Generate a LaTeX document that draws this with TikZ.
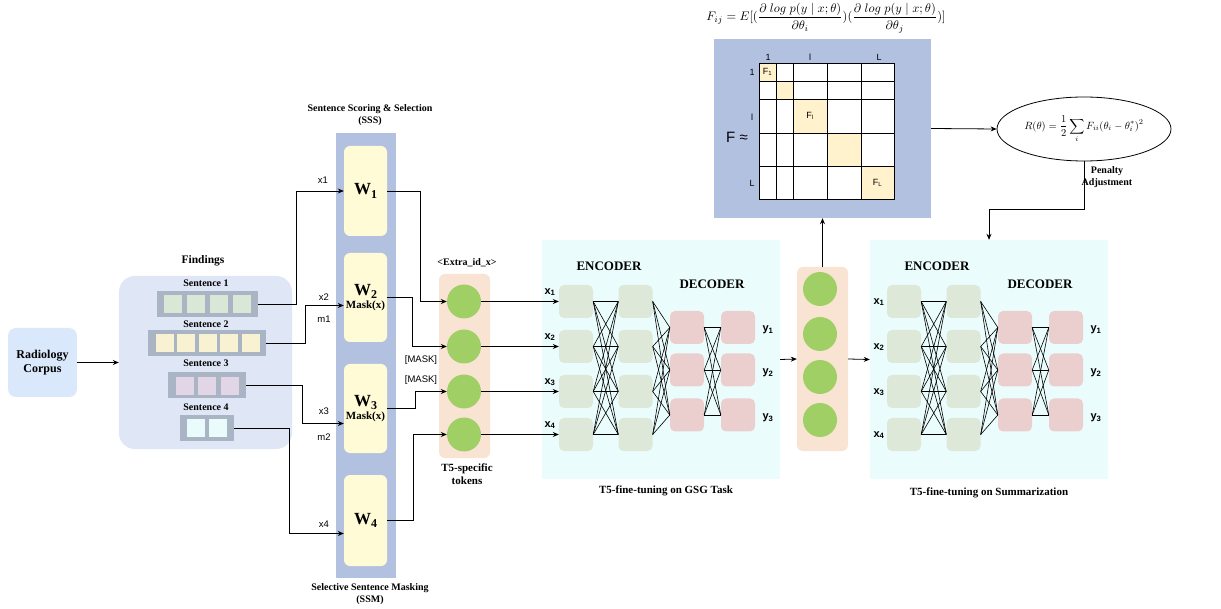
\documentclass[tikz,border=0pt]{standalone}
\usepackage[no-math]{fontspec}
\usepackage{graphicx}
\setmainfont{Liberation Serif}
\setsansfont{Liberation Sans}
\usetikzlibrary{arrows.meta,shapes.geometric}
\definecolor{corpusblue}{HTML}{DAE8FC}
\definecolor{findbg}{HTML}{DFE6F5}
\definecolor{bargray}{HTML}{A9B4C5}
\definecolor{sgreen}{HTML}{D9E7D6}
\definecolor{syellow}{HTML}{F8F1D2}
\definecolor{spurple}{HTML}{E2D5E6}
\definecolor{scyan}{HTML}{EAFBFB}
\definecolor{colblue}{HTML}{B3C1E1}
\definecolor{wyellow}{HTML}{FEFBD6}
\definecolor{peach}{HTML}{F9E4D3}
\definecolor{tokgreen}{HTML}{A0CF65}
\definecolor{t5bg}{HTML}{EBFCFC}
\definecolor{encgreen}{HTML}{DDE8D8}
\definecolor{decpink}{HTML}{EBCFCF}
\definecolor{matyellow}{HTML}{FFF2CC}
\newcommand{\Wsub}[1]{{\fontsize{17}{17}\selectfont W}\raisebox{-3.5pt}{\fontsize{12}{12}\selectfont #1}}
\begin{document}
\begin{tikzpicture}[x=1pt,y=-1pt,
  title/.style={font=\bfseries\fontsize{10}{11.5}\selectfont,align=center,inner sep=0},
  bigtitle/.style={font=\bfseries\fontsize{13}{14}\selectfont,inner sep=0},
  lab/.style={font=\sffamily\fontsize{9.5}{10}\selectfont,inner sep=0},
  blab/.style={font=\sffamily\bfseries\fontsize{11}{11}\selectfont,inner sep=0},
  arr/.style={-{Stealth[length=6pt,width=5pt]},line width=0.8pt},
  ln/.style={line width=0.6pt},
  cellbox/.style={minimum width=18pt,minimum height=18pt,inner sep=0},
  bar/.style={fill=bargray,minimum height=26pt,inner sep=0},
  wbox/.style={fill=wyellow,rounded corners=6pt,minimum width=43pt,inner sep=0,align=center,font=\bfseries},
  col/.style={fill=peach,rounded corners=6pt,minimum width=51pt,minimum height=184pt,inner sep=0},
  tok/.style={circle,fill=tokgreen,minimum size=34pt,inner sep=0},
  enc/.style={fill=encgreen,rounded corners=5pt,minimum width=34pt,minimum height=33pt,inner sep=0},
  dec/.style={fill=decpink,rounded corners=5pt,minimum width=34pt,minimum height=33pt,inner sep=0},
  t5box/.style={fill=t5bg,minimum width=238pt,minimum height=239pt,inner sep=0}
]
\useasboundingbox (0,0) rectangle (1221,609);
\fill[white] (0,0) rectangle (1221,609);

% ---------- Corpus and findings ----------
\node[fill=corpusblue,rounded corners=8pt,minimum width=69pt,minimum height=69pt,align=center,
      font=\bfseries\fontsize{12}{13.5}\selectfont] (corpus) at (42.5,362.5) {Radiology\\Corpus};
\node[fill=findbg,rounded corners=16pt,minimum width=173pt,minimum height=173pt,inner sep=0] (find) at (205.5,362.5) {};
\draw[arr] (corpus.east) -- (find.west);
\node[title,font=\bfseries\fontsize{11.5}{12}\selectfont] (findt) at (203,261) {Findings};

\node[title] (st1) at (206,283) {Sentence 1};
\node[title] (st2) at (206,324) {Sentence 2};
\node[title] (st3) at (206,363) {Sentence 3};
\node[title] (st4) at (206,407) {Sentence 4};

\node[bar,minimum width=101pt] (s1bar) at (207.5,304) {};
\foreach \i in {1,...,4} \node[cellbox,fill=sgreen] (s1c\i) at ({207.5+(\i-2.5)*23},304) {};
\node[bar,minimum width=118pt] (s2bar) at (207,343) {};
\foreach \i in {1,...,5} \node[cellbox,fill=syellow] (s2c\i) at ({207.5+(\i-3)*21.5},343) {};
\node[bar,minimum width=78pt] (s3bar) at (207,385.5) {};
\foreach \i in {1,...,3} \node[cellbox,fill=spurple] (s3c\i) at ({207+(\i-2)*22.5},386) {};
\node[bar,minimum width=54pt] (s4bar) at (207,428) {};
\foreach \i in {1,2} \node[cellbox,fill=scyan] (s4c\i) at ({207+(\i-1.5)*22},428) {};

% ---------- SSS column ----------
\node[fill=colblue,minimum width=60pt,minimum height=445pt,inner sep=0] (sss) at (366,355.5) {};
\node[title] (ssst) at (370,115) {Sentence Scoring \& Selection\\(SSS)};
\node[title] (ssmt) at (370,594) {Selective Sentence Masking\\(SSM)};

\node[wbox,minimum height=90pt] (w1) at (365.5,191) {\Wsub{1}};
\node[wbox,minimum height=89pt] (w2) at (365.5,297.5) {\Wsub{2}\\[1pt]{\fontsize{11}{12}\selectfont Mask(x)}};
\node[wbox,minimum height=89pt] (w3) at (365.5,408.5) {\Wsub{3}\\[1pt]{\fontsize{11}{12}\selectfont Mask(x)}};
\node[wbox,minimum height=91pt] (w4) at (365.5,520.5) {\Wsub{4}};

\draw[arr] (s1bar.east) -- ++(38,0) |- (w1.west);
\draw[arr] (s2bar.east) -- ++(39,0) |- ([yshift=-8pt]w2.west);
\draw[arr] (s3bar.east) -- ++(56,0) |- ([yshift=-15pt]w3.west);
\draw[arr] (s4bar.east) -- ++(55,0) |- ([yshift=-13pt]w4.west);
\node[lab] (lx1) at (323,180) {x1};
\node[lab] (lx2) at (324,297) {x2};
\node[lab] (lm1) at (324,319) {m1};
\node[lab] (lx3) at (324,411) {x3};
\node[lab] (lm2) at (324,437) {m2};
\node[lab] (lx4) at (324,524) {x4};

% ---------- T5 specific tokens ----------
\node[col] (tcol) at (464.5,366) {};
\node[tok] (c1) at (464,301.5) {};
\node[tok] (c2) at (464,346.5) {};
\node[tok] (c3) at (464,391.5) {};
\node[tok] (c4) at (464,434.5) {};
\node[title] (extra) at (467,263) {<Extra\_id\_x>};
\node[title,font=\bfseries\fontsize{11}{13}\selectfont] (t5t) at (467,474) {T5-specific\\tokens};

\draw[arr] (w1.east) -- ++(33,0) |- (c1.west);
\draw[arr] (w2.east) -- ++(25,0) |- (c2.west);
\draw[arr] (w3.east) -- ++(28,0) |- (c3.west);
\draw[arr] (w4.east) -- ++(26,0) |- (c4.west);
\node[lab] (mask1) at (421,360) {[MASK]};
\node[lab] (mask2) at (421,380) {[MASK]};

% ---------- T5 blocks ----------
\node[t5box] (gsg) at (661,359.5) {};
\node[t5box] (summ) at (989,359.5) {};
\node[title,font=\bfseries\fontsize{11}{12}\selectfont] (gsgt) at (666,491) {T5-fine-tuning on GSG Task};
\node[title,font=\bfseries\fontsize{11}{12}\selectfont] (summt) at (989,493) {T5-fine-tuning on Summarization};

\foreach \pre/\dx in {g/0,s/328} {
  \foreach \i/\y in {1/301.5,2/346.5,3/391.5,4/434.5} {
    \node[enc] (\pre e1\i) at ({576+\dx},\y) {};
    \node[enc] (\pre e2\i) at ({635.5+\dx},\y) {};
  }
  \foreach \i/\y in {1/327.5,2/370,3/415} {
    \node[dec] (\pre d1\i) at ({687+\dx},\y) {};
    \node[dec] (\pre d2\i) at ({738+\dx},\y) {};
  }
  \node[bigtitle] (\pre enct) at ({609+\dx},266) {ENCODER};
  \node[bigtitle] (\pre dect) at ({712+\dx},284) {DECODER};
  \foreach \i in {1,...,4} \foreach \j in {1,...,4} \draw[ln] (\pre e1\i.east) -- (\pre e2\j.west);
  \foreach \i in {1,...,4} \foreach \j in {1,2,3} \draw[ln] (\pre e2\i.east) -- (\pre d1\j.west);
  \foreach \i in {1,2,3} \foreach \j in {1,2,3} \draw[ln] (\pre d1\i.east) -- (\pre d2\j.west);
  \foreach \i/\y in {1/330,2/373,3/418} \node[blab] (\pre y\i) at ({768+\dx},\y) {y\textsubscript{\i}};
}
\foreach \i/\y in {1/292,2/337,3/382,4/425} \node[blab] (gx\i) at (550,\y) {x\textsubscript{\i}};
\foreach \i/\y in {1/302,2/347,3/392,4/435} \node[blab] (sx\i) at (879,\y) {x\textsubscript{\i}};
\foreach \i in {1,...,4} \draw[arr] (c\i.east) -- (ge1\i.west);

% ---------- middle tokens ----------
\node[col] (mid) at (822.5,359) {};
\node[tok] (m1) at (820,289) {};
\node[tok] (m2) at (820,334) {};
\node[tok] (m3) at (820,377) {};
\node[tok] (m4) at (820,420) {};
\draw[arr] (gsg.east) -- (mid.west);
\draw[arr] (mid.east) -- (summ.west);

% ---------- Fisher matrix ----------
\node[fill=colblue,minimum width=217pt,minimum height=179pt,inner sep=0] (fisher) at (822.5,128.5) {};
\draw[arr] (mid.north) -- (fisher.south);
\node[inner sep=0] (fform) at (826,18) {\scalebox{1.24}{$\displaystyle F_{ij} = E[(\frac{\partial\; log\; p(y\mid x;\theta)}{\partial\theta_i})(\frac{\partial\; log\; p(y\mid x;\theta)}{\partial\theta_j})]$}};
\fill[white] (759,63) rectangle (894,199);
\fill[matyellow] (759,63) rectangle (776,81);
\fill[matyellow] (776,81) rectangle (793,99);
\fill[matyellow] (793,99) rectangle (827,133);
\fill[matyellow] (827,133) rectangle (861,166);
\fill[matyellow] (861,166) rectangle (894,199);
\foreach \x in {776,793,827,861} \draw[ln] (\x,63) -- (\x,199);
\foreach \y in {81,99,133,166} \draw[ln] (759,\y) -- (894,\y);
\draw[line width=0.9pt] (759,63) rectangle (894,199);
\node[lab,font=\sffamily\fontsize{9}{9}\selectfont] (f1) at (767.5,72) {F\textsubscript{1}};
\node[lab,font=\sffamily\fontsize{9}{9}\selectfont] (fl) at (810,116) {F\textsubscript{l}};
\node[lab,font=\sffamily\fontsize{9}{9}\selectfont] (fL) at (877.5,182.5) {F\textsubscript{L}};
\node[lab,font=\sffamily\fontsize{9}{9}\selectfont] (col1) at (768,57) {1};
\node[lab,font=\sffamily\fontsize{9}{9}\selectfont] (coll) at (810,57) {l};
\node[lab,font=\sffamily\fontsize{9}{9}\selectfont] (colL) at (879,57) {L};
\node[lab,font=\sffamily\fontsize{9}{9}\selectfont] (row1) at (752,72) {1};
\node[lab,font=\sffamily\fontsize{9}{9}\selectfont] (rowl) at (752,117) {l};
\node[lab,font=\sffamily\fontsize{9}{9}\selectfont] (rowL) at (752,183) {L};
\node[lab,font=\sffamily\fontsize{15}{15}\selectfont] (fapprox) at (737,137) {F ≈};

% ---------- Regularizer ----------
\node[ellipse,draw,line width=0.8pt,fill=white,minimum width=174pt,minimum height=64pt,inner sep=0] (rell) at (1084,129)
  {\scalebox{1.05}{$\displaystyle R(\theta)=\frac{1}{2}\sum_i F_{ii}(\theta_i-\theta_i^{*})^2$}};
\draw[arr] (fisher.east) -- (rell.west);
\draw[arr] (rell.south) -- ++(0,48) -| (summ.north);
\node[title] (pen) at (1107,177) {Penalty\\Adjustment};
\end{tikzpicture}
\end{document}
